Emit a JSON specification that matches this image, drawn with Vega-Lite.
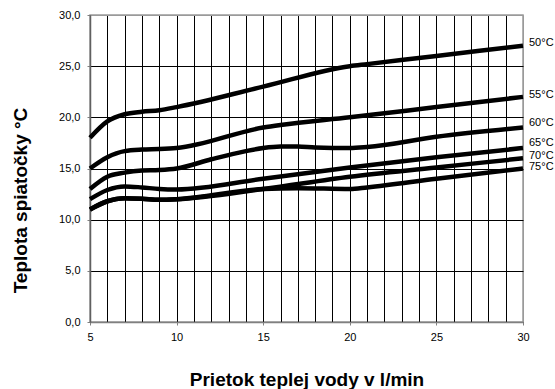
{
  "$schema": "https://vega.github.io/schema/vega-lite/v6.json",
  "width": 433,
  "height": 307,
  "autosize": {"type": "none"},
  "padding": {"left": 90, "top": 15, "right": 32, "bottom": 67},
  "background": "white",
  "config": {
    "view": {"stroke": "#9a9a9a", "strokeWidth": 1.5},
    "font": "Liberation Sans",
    "axis": {"labelFont": "Liberation Sans", "titleFont": "Liberation Sans", "labelColor": "black", "titleColor": "black"}
  },
  "datasets": {
    "curves": [
      {"series": "50", "flow": 5, "temp": 18.0},
      {"series": "50", "flow": 6, "temp": 19.6},
      {"series": "50", "flow": 7, "temp": 20.3},
      {"series": "50", "flow": 8, "temp": 20.55},
      {"series": "50", "flow": 9, "temp": 20.7},
      {"series": "50", "flow": 10, "temp": 21.0},
      {"series": "50", "flow": 15, "temp": 23.0},
      {"series": "50", "flow": 20, "temp": 25.0},
      {"series": "50", "flow": 21, "temp": 25.2},
      {"series": "50", "flow": 25, "temp": 26.0},
      {"series": "50", "flow": 30, "temp": 27.0},
      {"series": "55", "flow": 5, "temp": 15.0},
      {"series": "55", "flow": 6, "temp": 16.1},
      {"series": "55", "flow": 7, "temp": 16.7},
      {"series": "55", "flow": 8, "temp": 16.85},
      {"series": "55", "flow": 9, "temp": 16.9},
      {"series": "55", "flow": 10, "temp": 17.0},
      {"series": "55", "flow": 15, "temp": 19.0},
      {"series": "55", "flow": 16, "temp": 19.25},
      {"series": "55", "flow": 20, "temp": 20.0},
      {"series": "55", "flow": 25, "temp": 21.0},
      {"series": "55", "flow": 30, "temp": 22.0},
      {"series": "60", "flow": 5, "temp": 13.0},
      {"series": "60", "flow": 6, "temp": 14.2},
      {"series": "60", "flow": 7, "temp": 14.6},
      {"series": "60", "flow": 8, "temp": 14.8},
      {"series": "60", "flow": 9, "temp": 14.85},
      {"series": "60", "flow": 10, "temp": 15.0},
      {"series": "60", "flow": 12, "temp": 15.9},
      {"series": "60", "flow": 14, "temp": 16.7},
      {"series": "60", "flow": 15, "temp": 17.0},
      {"series": "60", "flow": 16, "temp": 17.15},
      {"series": "60", "flow": 17, "temp": 17.15},
      {"series": "60", "flow": 18, "temp": 17.05},
      {"series": "60", "flow": 20, "temp": 17.0},
      {"series": "60", "flow": 21, "temp": 17.1},
      {"series": "60", "flow": 25, "temp": 18.1},
      {"series": "60", "flow": 30, "temp": 19.0},
      {"series": "65", "flow": 5, "temp": 12.0},
      {"series": "65", "flow": 6, "temp": 12.9},
      {"series": "65", "flow": 7, "temp": 13.25},
      {"series": "65", "flow": 8, "temp": 13.15},
      {"series": "65", "flow": 9, "temp": 13.0},
      {"series": "65", "flow": 10, "temp": 12.95},
      {"series": "65", "flow": 15, "temp": 14.0},
      {"series": "65", "flow": 20, "temp": 15.1},
      {"series": "65", "flow": 25, "temp": 16.1},
      {"series": "65", "flow": 30, "temp": 17.0},
      {"series": "70", "flow": 5, "temp": 11.0},
      {"series": "70", "flow": 6, "temp": 11.8},
      {"series": "70", "flow": 7, "temp": 12.1},
      {"series": "70", "flow": 8, "temp": 12.05},
      {"series": "70", "flow": 9, "temp": 11.95},
      {"series": "70", "flow": 10, "temp": 12.0},
      {"series": "70", "flow": 15, "temp": 13.0},
      {"series": "70", "flow": 20, "temp": 14.2},
      {"series": "70", "flow": 25, "temp": 15.1},
      {"series": "70", "flow": 30, "temp": 16.0},
      {"series": "75", "flow": 5, "temp": 11.0},
      {"series": "75", "flow": 6, "temp": 11.8},
      {"series": "75", "flow": 7, "temp": 12.1},
      {"series": "75", "flow": 8, "temp": 12.05},
      {"series": "75", "flow": 9, "temp": 11.95},
      {"series": "75", "flow": 10, "temp": 12.0},
      {"series": "75", "flow": 15, "temp": 13.0},
      {"series": "75", "flow": 17, "temp": 13.08},
      {"series": "75", "flow": 20, "temp": 13.0},
      {"series": "75", "flow": 21, "temp": 13.15},
      {"series": "75", "flow": 25, "temp": 14.0},
      {"series": "75", "flow": 30, "temp": 15.0}
    ],
    "labels": [
      {"label": "50°C", "flow": 30, "pos": 27.3},
      {"label": "55°C", "flow": 30, "pos": 22.2},
      {"label": "60°C", "flow": 30, "pos": 19.4},
      {"label": "65°C", "flow": 30, "pos": 17.5},
      {"label": "70°C", "flow": 30, "pos": 16.25},
      {"label": "75°C", "flow": 30, "pos": 15.1}
    ]
  },
  "layer": [
    {
      "data": {"name": "curves"},
      "mark": {"type": "line", "interpolate": "monotone", "strokeWidth": 4.5, "color": "black"},
      "encoding": {
        "x": {
          "field": "flow", "type": "quantitative",
          "scale": {"domain": [5, 30], "nice": false, "zero": false},
          "axis": {
            "values": [5,6,7,8,9,10,11,12,13,14,15,16,17,18,19,20,21,22,23,24,25,26,27,28,29,30],
            "tickCount": 40,
            "format": "d",
            "labelExpr": "datum.value % 5 === 0 ? datum.label : ''",
            "labelOverlap": false,
            "labelFlush": false,
            "labelFontSize": 11,
            "labelPadding": 6,
            "tickSize": 3,
            "tickColor": "#808080",
            "tickOpacity": {"condition": {"test": "datum.value % 5 === 0", "value": 1}, "value": 0},
            "grid": true,
            "gridColor": {"condition": {"test": "datum.value === 30", "value": "#9a9a9a"}, "value": "black"},
            "gridOpacity": 1,
            "gridWidth": 1,
            "domainColor": "#808080",
            "domainWidth": 1.5,
            "title": "Prietok teplej vody v l/min",
            "titleFontSize": 19,
            "titleFontWeight": "bold",
            "titleBaseline": "alphabetic",
            "titleX": 216.5,
            "titleY": 63
          }
        },
        "y": {
          "field": "temp", "type": "quantitative",
          "scale": {"domain": [0, 30], "nice": false, "zero": true},
          "axis": {
            "values": [0, 5, 10, 15, 20, 25, 30],
            "tickCount": 10,
            "labelExpr": "replace(format(datum.value, '.1f'), '.', ',')",
            "labelFontSize": 11,
            "labelPadding": 7,
            "tickSize": 3,
            "tickColor": "#808080",
            "grid": true,
            "gridColor": {"condition": {"test": "datum.value === 30", "value": "#9a9a9a"}, "value": "black"},
            "gridOpacity": 1,
            "gridWidth": 1,
            "domainColor": "#606060",
            "domainWidth": 1.5,
            "title": "Teplota spiatočky °C",
            "titleFontSize": 19,
            "titleFontWeight": "bold",
            "titleAngle": -90,
            "titleAlign": "center",
            "titleBaseline": "alphabetic",
            "titleX": -64,
            "titleY": 185
          }
        },
        "detail": {"field": "series", "type": "nominal"}
      }
    },
    {
      "data": {"name": "labels"},
      "mark": {"type": "text", "align": "left", "baseline": "middle", "dx": 6, "fontSize": 11, "font": "Liberation Sans", "color": "black"},
      "encoding": {
        "x": {"field": "flow", "type": "quantitative"},
        "y": {"field": "pos", "type": "quantitative"},
        "text": {"field": "label"}
      }
    }
  ]
}
